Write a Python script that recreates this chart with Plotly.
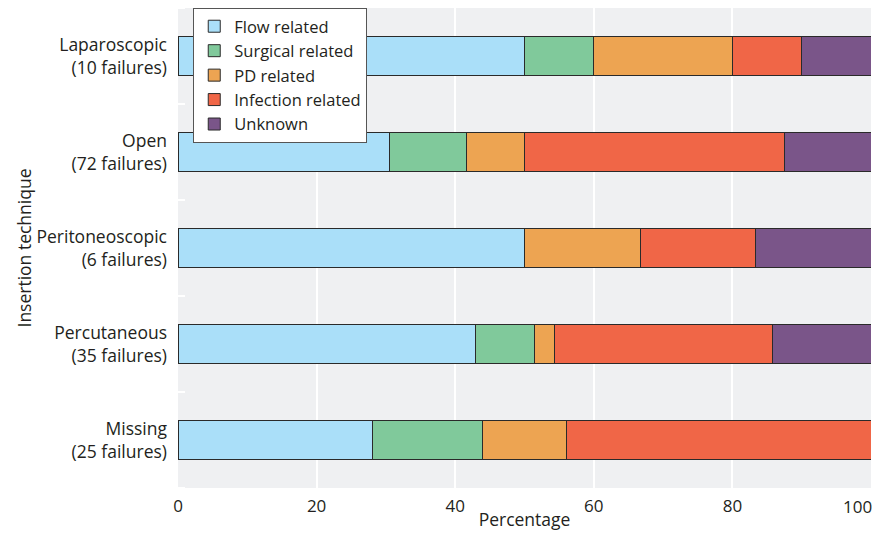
import plotly.graph_objects as go

techniques = ["Laparoscopic<br>(10 failures)", "Open<br>(72 failures)",
              "Peritoneoscopic<br>(6 failures)", "Percutaneous<br>(35 failures)",
              "Missing<br>(25 failures)"]
causes = ["Flow related", "Surgical related", "PD related", "Infection related", "Unknown"]

# failure counts per technique, per cause
totals = [10, 72, 6, 35, 25]
flow = [5, 22, 3, 15, 7]
surgical = [1, 8, 0, 3, 4]
pd_related = [2, 6, 1, 1, 3]
infection = [1, 27, 1, 11, 11]
unknown = [1, 9, 1, 5, 0]

x_ticks = [0, 20, 40, 60, 80, 100]

colors = ["#aadff9", "#80c99b", "#eda452", "#f06647", "#7a5589"]

ypos = list(range(len(techniques)))

fig = go.Figure()
for name, counts, col in zip(causes, [flow, surgical, pd_related, infection, unknown], colors):
    pct = [100 * c / t for c, t in zip(counts, totals)]
    fig.add_trace(go.Bar(
        y=ypos, x=pct, name=name, orientation="h",
        marker=dict(color=col, line=dict(color="#2a2a2a", width=1)),
        width=0.4,
    ))

# last tick label sits on the right edge; anchor it right so it isn't cut off
fig.add_annotation(x=x_ticks[-1], y=0, xref="x", yref="paper",
                   text=str(x_ticks[-1]), showarrow=False,
                   xanchor="right", yanchor="top", xshift=3, yshift=-5,
                   font=dict(size=17))

# page body adds an 8px margin all round, keep the figure inside the window
fig.update_layout(
    barmode="stack",
    width=868, height=523,
    margin=dict(l=170, r=5, t=0, b=43),
    paper_bgcolor="white",
    plot_bgcolor="#eff0f2",
    font=dict(family="Open Sans", size=17, color="#231f20"),
    legend=dict(x=0.022, y=1.0, xanchor="left", yanchor="top",
                bgcolor="white", bordercolor="#555555", borderwidth=1,
                font=dict(size=16.5), traceorder="normal", tracegroupgap=0,
                itemwidth=30),
    showlegend=True,
)
fig.update_xaxes(range=[0, 100], tickvals=x_ticks[:-1],
                 showgrid=True, gridcolor="white", gridwidth=2,
                 zeroline=False, showline=False, ticks="", automargin=False,
                 tickfont=dict(size=17), ticklabelstandoff=6,
                 title=dict(text="Percentage", standoff=9, font=dict(size=17.5)))
fig.update_yaxes(range=[4.5, -0.5], tickvals=ypos, ticktext=techniques,
                 showgrid=False, zeroline=False, showline=False, ticks="",
                 automargin=False, tickfont=dict(size=17.5), ticklabelstandoff=10,
                 minor=dict(tick0=0.5, dtick=1, ticks="inside", ticklen=7,
                            tickcolor="white", tickwidth=2, showgrid=False),
                 title=dict(text="Insertion technique", standoff=0, font=dict(size=17.5)))

fig.write_html("out.html")
